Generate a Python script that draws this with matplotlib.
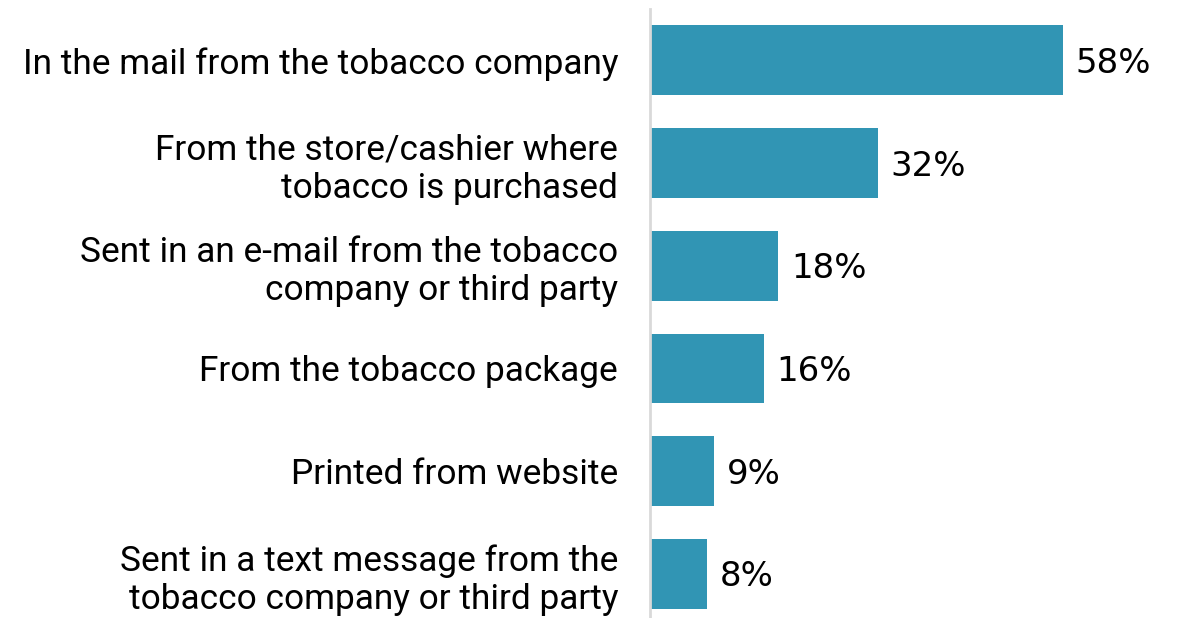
import matplotlib
matplotlib.use("Agg")
import matplotlib.pyplot as plt

categories = [
    "In the mail from the tobacco company",
    "From the store/cashier where\ntobacco is purchased",
    "Sent in an e-mail from the tobacco\ncompany or third party",
    "From the tobacco package",
    "Printed from website",
    "Sent in a text message from the\ntobacco company or third party",
]
values = [58, 32, 18, 16, 9, 8]

bar_color = "#3195B4"

fig = plt.figure(figsize=(11.79, 6.18), dpi=100)
ax = fig.add_axes([650 / 1179, 0.0, 1 - 650 / 1179, 609 / 618])

y = list(range(len(values)))
ax.barh(y, values, height=0.68, color=bar_color)

for yi, v in zip(y, values):
    ax.text(v + 1.8, yi + 0.03, f"{v}%", va="center", ha="left",
            fontsize=24.5, family="DejaVu Sans", color="black")

ax.set_xlim(0, 74.3)
ax.set_ylim(5.43, -0.5)
ax.set_yticks(y)
ax.set_yticklabels(categories, fontsize=25.4, family="Roboto",
                   linespacing=1.2)
ax.tick_params(axis="y", length=0, pad=23)
ax.set_xticks([])

for s in ["top", "right", "bottom"]:
    ax.spines[s].set_visible(False)
ax.spines["left"].set_color("#d9d9d9")
ax.spines["left"].set_linewidth(2)

fig.savefig("out.png", dpi=100)
